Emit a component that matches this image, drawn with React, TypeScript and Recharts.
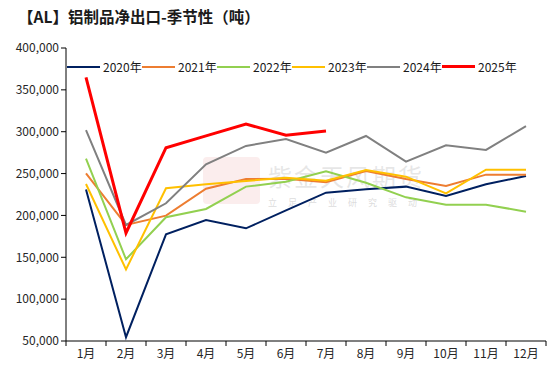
import { Line, LineChart, XAxis, YAxis } from 'recharts';

const months = [1, 2, 3, 4, 5, 6, 7, 8, 9, 10, 11, 12];
const y2020 = [231000, 54500, 177500, 194500, 184600, 206000, 227200, 231200, 234400, 223200, 237200, 247100];
const y2021 = [250300, 188600, 199700, 231900, 243500, 243900, 239600, 253100, 243500, 235200, 248700, 248700];
const y2022 = [267800, 147600, 197800, 207700, 234400, 240300, 252700, 239100, 221600, 212800, 212800, 204500];
const y2023 = [237500, 135600, 232400, 237200, 241100, 245100, 241500, 254300, 246300, 226400, 254700, 254700];
const y2024 = [302000, 188600, 214500, 261000, 283000, 291300, 275000, 294900, 264200, 283800, 278200, 306800];
const y2025 = [365000, 179000, 280900, 295000, 309200, 295700, 300900];
const yTicks = [50000, 100000, 150000, 200000, 250000, 300000, 350000, 400000];
const xTicks = [0.5, 1.5, 2.5, 3.5, 4.5, 5.5, 6.5, 7.5, 8.5, 9.5, 10.5, 11.5, 12.5];

const series = [
  { key: 'y2020', name: '2020年', color: '#002060', width: 2 },
  { key: 'y2021', name: '2021年', color: '#ED7D31', width: 2 },
  { key: 'y2022', name: '2022年', color: '#92D050', width: 2 },
  { key: 'y2023', name: '2023年', color: '#FFC000', width: 2 },
  { key: 'y2024', name: '2024年', color: '#808080', width: 2 },
  { key: 'y2025', name: '2025年', color: '#FF0000', width: 3 },
];

const data = months.map((m, i) => ({
  m,
  y2020: y2020[i],
  y2021: y2021[i],
  y2022: y2022[i],
  y2023: y2023[i],
  y2024: y2024[i],
  y2025: y2025[i] ?? null,
}));

const font = '"Noto Sans CJK SC", "Noto Sans", sans-serif';

function MonthTick(props: any) {
  const { x, y, payload } = props;
  if (payload.value > 12) return null;
  return (
    <text x={x + 20} y={y + 10} textAnchor="middle" fontSize={12} fill="#262626" fontFamily={font}>
      {`${payload.value + 0.5}月`}
    </text>
  );
}

export default function App() {
  return (
    <div style={{ position: 'absolute', left: 0, top: 0, width: 551, height: 372, background: '#fff', fontFamily: font }}>
      <div style={{ position: 'absolute', left: 18, top: 5, fontSize: 15.5, fontWeight: 700, color: '#1a1a1a', whiteSpace: 'nowrap' }}>
        【AL】铝制品净出口-季节性（吨）
      </div>
      {/* watermark */}
      <div style={{ position: 'absolute', left: 203, top: 157, width: 57, height: 47, background: 'rgba(230,140,140,0.16)', borderRadius: 4 }} />
      <div style={{ position: 'absolute', left: 268, top: 158, fontSize: 24, color: 'rgba(185,185,185,0.35)', letterSpacing: 2 }}>紫金天风期货</div>
      <div style={{ position: 'absolute', left: 268, top: 196, fontSize: 9, color: 'rgba(185,185,185,0.5)', letterSpacing: 11 }}>立足产业研究驱动</div>
      <div style={{ position: 'absolute', left: 67, top: 58, display: 'flex', fontSize: 12, color: '#1a1a1a', zIndex: 2 }}>
        {series.map((s) => (
          <div key={s.key} style={{ width: 75, display: 'flex', alignItems: 'center' }}>
            <span style={{ display: 'inline-block', width: 33, height: s.width, background: s.color, marginRight: 3 }} />
            <span>{s.name}</span>
          </div>
        ))}
      </div>
      <div style={{ position: 'absolute', left: 0, top: 0 }}>
        <LineChart width={551} height={372} data={data} margin={{ top: 48, right: 5, bottom: 0, left: 6 }}>
          <XAxis
            dataKey="m"
            type="number"
            domain={[0.5, 12.5]}
            ticks={xTicks}
            interval={0}
            tickSize={5}
            tick={<MonthTick />}
            axisLine={{ stroke: '#000' }}
            tickLine={{ stroke: '#000' }}
            height={31}
          />
          <XAxis xAxisId="top" orientation="top" dataKey="m" type="number" domain={[0.5, 12.5]} tick={false} tickLine={false} axisLine={{ stroke: '#8c8c8c' }} height={0} />
          <YAxis
            domain={[50000, 400000]}
            ticks={yTicks}
            interval={0}
            tickFormatter={(v: number) => v.toLocaleString('en-US')}
            tick={{ fontSize: 12, fill: '#262626', fontFamily: font }}
            tickSize={5}
            axisLine={{ stroke: '#000' }}
            tickLine={{ stroke: '#000' }}
            width={60}
          />
          <YAxis yAxisId="right" orientation="right" domain={[50000, 400000]} tick={false} tickLine={false} axisLine={{ stroke: '#8c8c8c' }} width={0} />
          {series.map((s) => (
            <Line
              key={s.key}
              dataKey={s.key}
              name={s.name}
              stroke={s.color}
              strokeWidth={s.width}
              dot={false}
              type="linear"
              isAnimationActive={false}
            />
          ))}
        </LineChart>
      </div>
    </div>
  );
}
